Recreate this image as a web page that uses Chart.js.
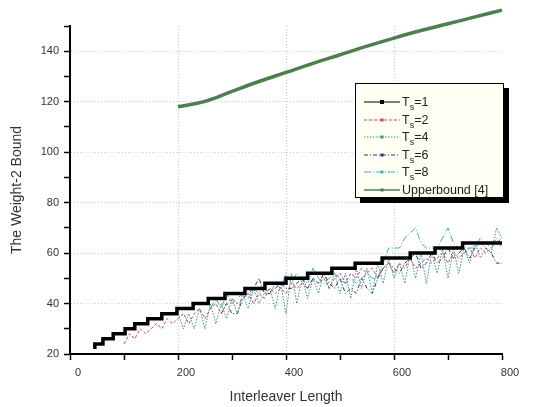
<!DOCTYPE html>
<html><head><meta charset="utf-8">
<script src="https://cdn.jsdelivr.net/npm/chart.js@4"></script>
<style>
html,body{margin:0;padding:0;background:#fff;}
#wrap{position:relative;width:546px;height:407px;}
#legend{position:absolute;left:355px;top:83px;width:147px;height:113px;background:#fffff3;border:1px solid #000;box-shadow:5px 5px 0 #000;font-family:"Liberation Sans",Arial,sans-serif;font-size:12.5px;color:#222;}
.row{position:absolute;left:8px;height:16px;display:flex;align-items:center;white-space:nowrap;}
.row svg{width:36px;height:10px;margin-right:2px;}
sub{font-size:9px;vertical-align:-4px;line-height:0;}
</style></head>
<body><div id="wrap"><canvas id="c" width="546" height="407"></canvas><div id="legend"></div></div>
<script>
// ---- data ----
const seriesNames = ['Ts=1','Ts=2','Ts=4','Ts=6','Ts=8','Upperbound [4]'];
const xTicks = [0,200,400,600,800];
const yTicks = [20,40,60,80,100,120,140];

// Ts=1 staircase: start of each step and its value
const ts1Start = [46,61,80,102,120,144,170,198,228,256,287,324,361,400,440,485,528,578,630,676,727,783,800];
const ts1Value = [22,24,26,28,30,32,34,36,38,40,42,44,46,48,50,52,54,56,58,60,62,64,64];

const lengths = [100,110,120,130,140,150,160,170,180,190,200,210,220,230,240,250,260,270,280,290,
 300,310,320,330,340,350,360,370,380,390,400,410,420,430,440,450,460,470,480,490,
 500,510,520,530,540,550,560,570,580,590,600,610,620,630,640,650,660,670,680,690,
 700,710,720,730,740,750,760,770,780,790,800];

const ts2 = [24,28,26,30,28,30,32,30,34,32,
 34,36,32,36,38,34,38,40,36,40,
 42,40,42,44,40,44,42,46,44,46,
 44,48,46,48,46,50,48,50,46,50,
 52,48,52,50,54,52,54,50,54,56,
 52,56,54,58,54,56,58,56,58,60,
 56,60,58,60,62,58,62,60,62,64,
 66];

const ts4 = [null,null,null,null,null,null,null,null,null,null,
 36,30,36,30,38,30,40,32,40,34,
 42,36,44,38,46,40,44,46,38,48,
 36,52,40,50,42,50,44,52,46,52,
 44,52,42,54,46,54,44,56,48,58,
 50,56,48,60,50,60,48,60,52,62,
 50,62,52,62,56,64,58,62,60,70,
 66];

const ts6 = [null,null,null,null,null,null,null,null,null,null,
 null,null,null,null,null,null,null,null,36,40,
 36,36,42,44,46,50,44,44,46,48,
 46,46,48,50,46,50,48,52,48,46,
 50,44,46,44,50,46,44,50,54,56,
 54,52,56,58,60,54,56,60,56,58,
 62,58,60,62,58,62,64,62,60,56,
 56];

const ts8 = [null,null,null,null,null,null,null,null,null,null,
 null,null,null,null,null,null,38,42,38,44,
 40,42,44,42,46,44,46,44,48,46,
 52,48,52,50,48,54,50,48,50,52,
 50,48,50,48,50,52,50,50,56,62,
 62,62,66,68,70,64,62,62,62,66,
 70,64,62,62,62,62,66,64,62,66,
 62];

const ubLength = [200,250,300,350,400,450,500,550,600,650,700,750,800];
const ubValue  = [118,120.1,124.1,128,131.6,135.2,138.6,142,145.2,148.2,150.9,153.6,156.3];

// ---- styles ----
const FONT = '"Liberation Sans", Arial, Helvetica, sans-serif';
const styles = [
  {color:'#000000', width:3.5, dash:[]},
  {color:'#d9434f', width:1, dash:[3,2]},
  {color:'#2e9e6a', width:1, dash:[1.5,1.5]},
  {color:'#2b2b8c', width:1, dash:[4,2,1,2]},
  {color:'#35b5d5', width:1, dash:[7,2,1,2]},
  {color:'#4e7d4e', width:3.5, dash:[]}
];

const pts = (xs, ys) => xs.map((x,i)=>({x:x, y:ys[i]}));

const datasets = [
  {label:seriesNames[0], data:pts(ts1Start, ts1Value), stepped:'after'},
  {label:seriesNames[1], data:pts(lengths, ts2)},
  {label:seriesNames[2], data:pts(lengths, ts4)},
  {label:seriesNames[3], data:pts(lengths, ts6)},
  {label:seriesNames[4], data:pts(lengths, ts8)},
  {label:seriesNames[5], data:pts(ubLength, ubValue), tension:0.4, clip:false}
].map((d,i)=>Object.assign({
  borderColor:styles[i].color, backgroundColor:styles[i].color,
  borderWidth:styles[i].width, borderDash:styles[i].dash,
  pointRadius:0, fill:false, spanGaps:false, borderCapStyle:'butt'
}, d));

new Chart(document.getElementById('c'), {
  type:'line',
  data:{datasets},
  options:{
    responsive:false, animation:false, devicePixelRatio:1,
    layout:{padding:{left:0,right:44,top:26,bottom:0}},
    plugins:{legend:{display:false}, tooltip:{enabled:false}},
    scales:{
      x:{type:'linear', min:0, max:800,
        afterFit:s=>{s.height=53;},
        ticks:{stepSize:100, autoSkip:false, maxRotation:0, labelOffset:8, padding:6,
          callback:v=>xTicks.includes(v)?String(v):'',
          font:{family:FONT,size:11}, color:'#333'},
        grid:{color:c=>(c.tick && xTicks.includes(c.tick.value) && c.tick.value>0 && c.tick.value<800)?'#cccccc':'rgba(0,0,0,0)',
          tickColor:'#000', tickLength:6, tickWidth:1.5, lineWidth:1},
        border:{color:'#000', width:2, dash:[1,2]},
        title:{display:true, text:'Interleaver Length', color:'#333', font:{family:FONT,size:14}, padding:{top:2,bottom:1}}
      },
      y:{min:20, max:150,
        afterFit:s=>{s.width=70;},
        ticks:{stepSize:10, autoSkip:false, padding:5,
          callback:v=>yTicks.includes(v)?String(v):'',
          font:{family:FONT,size:11}, color:'#333'},
        grid:{color:c=>(c.tick && yTicks.includes(c.tick.value) && c.tick.value>20)?'#cccccc':'rgba(0,0,0,0)',
          tickColor:'#000', tickLength:6, tickWidth:1.5, lineWidth:1},
        border:{color:'#000', width:2, dash:[1,2]},
        title:{display:true, text:'The Weight-2 Bound', color:'#333', font:{family:FONT,size:14}, padding:{top:9,bottom:2}}
      }
    }
  }
});

// ---- HTML legend built from the series ----
const lg = document.getElementById('legend');
seriesNames.forEach((name,i)=>{
  const st = styles[i];
  const row = document.createElement('div');
  row.className='row';
  row.style.top = (10 + i*17.5) + 'px';
  const dash = st.dash.length ? st.dash.join(',') : 'none';
  const w = i===0 ? 1.2 : (i===5 ? 1.5 : 1);
  const mk = i===0 ? '<rect x="16" y="3" width="4" height="4" fill="#000"/>' :
             `<rect x="16.5" y="3.5" width="3" height="3" fill="${st.color}"/>`;
  row.innerHTML = `<svg viewBox="0 0 36 10"><line x1="0" y1="5" x2="36" y2="5" stroke="${st.color}" stroke-width="${w}" stroke-dasharray="${dash}"/>${mk}</svg>`;
  const span = document.createElement('span');
  if (name.startsWith('Ts=')) {
    span.innerHTML = 'T<sub>s</sub>=' + name.slice(3);
  } else {
    span.textContent = name;
  }
  row.appendChild(span);
  lg.appendChild(row);
});
</script>
</body></html>
